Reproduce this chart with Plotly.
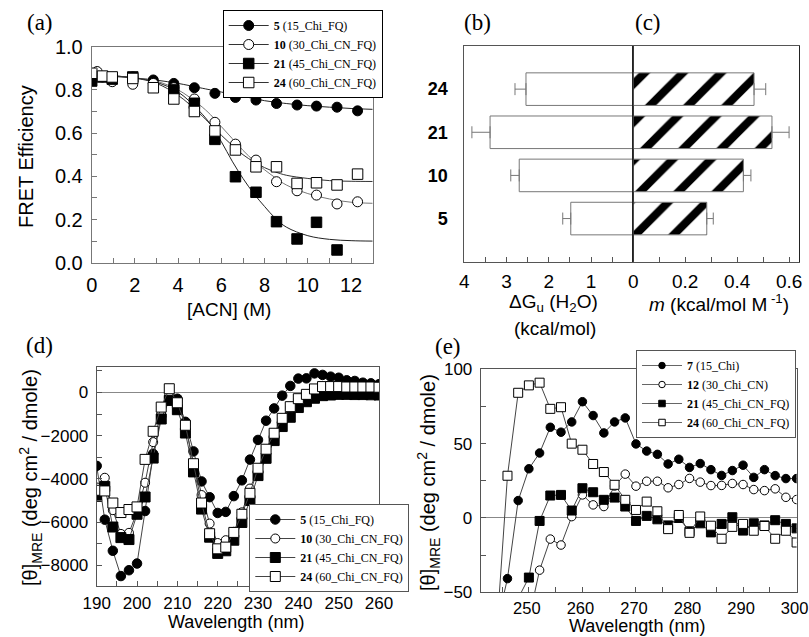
import plotly.graph_objects as go

W, H = 809, 637

# ---------------- Panel (a): FRET efficiency vs [ACN] ----------------
acn_5 = [0, 0.5, 0.95, 1.9, 2.85, 3.8, 4.75, 5.7, 6.65, 7.6, 8.55, 9.5, 10.4, 11.35, 12.3]
fret_5 = [0.865, 0.86, 0.855, 0.86, 0.846, 0.83, 0.81, 0.784, 0.765, 0.753, 0.737, 0.73, 0.725, 0.72, 0.703]
acn_10 = [0.25, 0.95, 1.9, 2.85, 3.8, 4.75, 5.7, 6.65, 7.6, 8.55, 9.5, 10.4, 11.35, 12.3]
fret_10 = [0.885, 0.838, 0.826, 0.83, 0.81, 0.758, 0.65, 0.549, 0.475, 0.375, 0.333, 0.313, 0.272, 0.282]
acn_21 = [0, 0.5, 0.95, 1.9, 3.8, 4.75, 5.7, 6.65, 7.6, 8.55, 9.5, 10.4, 11.35]
fret_21 = [0.841, 0.86, 0.85, 0.86, 0.80, 0.738, 0.571, 0.398, 0.326, 0.19, 0.11, 0.187, 0.059]
acn_24 = [0, 0.5, 0.95, 1.9, 2.85, 3.8, 4.75, 5.7, 6.65, 7.6, 8.55, 9.5, 10.4, 11.35, 12.3]
fret_24 = [0.877, 0.864, 0.86, 0.853, 0.81, 0.758, 0.70, 0.61, 0.522, 0.444, 0.444, 0.367, 0.37, 0.36, 0.41]

# fitted curves
fit_x = [0, 1, 2, 3, 4, 5, 5.5, 6, 6.5, 7, 7.5, 8, 8.5, 9, 10, 11, 12, 13]
fit_5 = [0.865, 0.862, 0.855, 0.845, 0.83, 0.81, 0.80, 0.79, 0.78, 0.77, 0.76, 0.75, 0.743, 0.737, 0.727, 0.72, 0.714, 0.71]
fit_10 = [0.87, 0.865, 0.855, 0.84, 0.80, 0.73, 0.685, 0.63, 0.575, 0.52, 0.472, 0.43, 0.393, 0.36, 0.32, 0.295, 0.28, 0.275]
fit_21 = [0.87, 0.865, 0.855, 0.835, 0.79, 0.70, 0.64, 0.56, 0.47, 0.39, 0.32, 0.26, 0.205, 0.165, 0.125, 0.108, 0.102, 0.10]
fit_24 = [0.87, 0.865, 0.855, 0.83, 0.775, 0.69, 0.64, 0.59, 0.543, 0.50, 0.467, 0.44, 0.42, 0.405, 0.39, 0.38, 0.377, 0.376]

# ---------------- Panels (b)/(c): bars ----------------
bar_labels = ["24", "21", "10", "5"]
bar_pos = [4, 3, 2, 1]
dG = [2.54, 3.39, 2.70, 1.48]
dG_err = [0.26, 0.43, 0.20, 0.19]
m_val = [0.465, 0.534, 0.424, 0.283]
m_err = [0.045, 0.066, 0.029, 0.025]

# ---------------- Panel (d): far-UV CD ----------------
wl_d = list(range(190, 262, 2))
cd_5 = [-3400, -5890, -7330, -8500, -8230, -7920, -5490, -2840, -1100, -250, -290, -1360,
        -2730, -4120, -4850, -5580, -5530, -4800, -4070, -3110, -2200, -1310, -740, -150,
        300, 640, 650, 880, 810, 730, 680, 560, 530, 450, 420, 380]
cd_10 = [-4400, -3950, -5450, -6550, -6500, -5530, -4180, -2300, -1000, -100, -450, -1500,
         -3300, -4750, -6070, -6970, -6840, -6450, -5550, -4450, -3550, -2650, -1950, -1250,
         -700, -350, -150, 0, 100, 150, 150, 150, 150, 150, 150, 150]
cd_21 = [-4810, -4350, -6230, -6720, -6810, -5640, -4840, -3040, -1230, -370, -800, -1880,
         -3680, -5400, -6700, -7450, -7330, -6840, -6020, -5000, -3850, -3050, -2230, -1580,
         -1150, -700, -430, -270, -150, -120, -90, -90, -100, -100, -110, -120]
cd_24 = [-4530, -4560, -5120, -5560, -5420, -5300, -3100, -1800, -680, 170, -480, -1520,
         -3300, -5120, -6540, -7240, -7160, -6480, -5640, -4670, -3510, -2630, -1890, -1200,
         -660, -290, -90, 160, 270, 270, 270, 250, 250, 250, 250, 240]

# ---------------- Panel (e): near-UV CD ----------------
wl_e7 = list(range(244, 302, 2))
cd_e7 = [-72, -40.8, 11.7, 33.1, 43.7, 61, 57.7, 64.6, 78.2, 68.9, 57.2, 64.6, 67.3, 49.8,
         45, 42.8, 36.3, 39.5, 34, 36.6, 32.5, 28.6, 31.9, 35.5, 27.3, 32.5, 28.5, 26.5, 26.5]
wl_e12 = list(range(250, 302, 2))
cd_e12 = [-68, -35.1, -14.2, -18.2, 0.9, 15.5, 8.8, 7.7, 21.5, 29.5, 21.4, 24.7, 24.7, 20.3,
          22.5, 26.6, 24.1, 21.8, 21.9, 23.2, 22.5, 19.1, 18.4, 19.6, 13.9, 12.4]
wl_e21 = list(range(248, 302, 2))
cd_e21 = [-54, -40.1, -2, 15.1, 15.5, 5, 20, 17.3, 12.2, 13.7, 7.7, -2, 1.4, -0.9, -5, 0,
          -9, -3.6, -9.7, -4, 0.5, -8.5, -3.6, -5, -1.5, -4, -7]
wl_e24 = list(range(244, 302, 2))
cd_e24 = [-76, 28.4, 84.2, 89.2, 91, 73.4, 74.5, 50, 45.9, 36.3, 30.9, 22.3, 12.2, 5.4, 11,
          4.5, -7.5, 2, -10, 1, -5.2, -14, -6, -4, -8.6, -5.4, -14, -8.6, -16.5]

names_a = ["<b>5</b> (15_Chi_FQ)", "<b>10</b> (30_Chi_CN_FQ)",
           "<b>21</b> (45_Chi_CN_FQ)", "<b>24</b> (60_Chi_CN_FQ)"]
names_e = ["<b>7</b> (15_Chi)", "<b>12</b> (30_Chi_CN)",
           "<b>21</b> (45_Chi_CN_FQ)", "<b>24</b> (60_Chi_CN_FQ)"]

SANS = "Liberation Sans"
SERIF = "Liberation Serif"
FRAME = "#555555"
LINE = "#444444"

styles = [
    dict(symbol="circle", color="black"),
    dict(symbol="circle", color="white"),
    dict(symbol="square", color="black"),
    dict(symbol="square", color="white"),
]


def px(x):
    return x / W


def py(y):
    return 1 - y / H


fig = go.Figure()

# ---- (a) curves
for fx, fy, col in [(fit_x, fit_5, "#222"), (fit_x, fit_10, "#777"),
                    (fit_x, fit_21, "#222"), (fit_x, fit_24, "#333")]:
    fig.add_trace(go.Scatter(x=fx, y=fy, mode="lines", line=dict(color=col, width=1, shape="spline"),
                             showlegend=False, xaxis="x", yaxis="y", hoverinfo="skip"))
for (xs, ys), st, nm, sz in zip([(acn_5, fret_5), (acn_10, fret_10), (acn_21, fret_21), (acn_24, fret_24)],
                                styles, names_a, [10, 10, 10.5, 10.5]):
    fig.add_trace(go.Scatter(x=xs, y=ys, mode="markers",
                             marker=dict(symbol=st["symbol"], color=st["color"], size=sz,
                                         line=dict(color="black", width=1)),
                             showlegend=False, xaxis="x", yaxis="y"))
    fig.add_trace(go.Scatter(x=[None], y=[None], mode="lines+markers", name=nm,
                             marker=dict(symbol=st["symbol"], color=st["color"], size=sz,
                                         line=dict(color="black", width=1)),
                             line=dict(color="#333", width=1),
                             legend="legend", xaxis="x", yaxis="y"))

# ---- (b) bars
fig.add_trace(go.Bar(y=bar_pos, x=dG, orientation="h", width=0.755,
                     marker=dict(color="white", line=dict(color="#777", width=1)),
                     error_x=dict(type="data", symmetric=False, array=dG_err, arrayminus=[0] * 4,
                                  color="#777", thickness=1, width=6),
                     showlegend=False, xaxis="x2", yaxis="y2"))
# ---- (c) bars
fig.add_trace(go.Bar(y=bar_pos, x=m_val, orientation="h", width=0.755,
                     marker=dict(color="white", line=dict(color="#777", width=1),
                                 pattern=dict(shape="/", fgcolor="black", bgcolor="white",
                                              fgopacity=1, size=27, solidity=0.3)),
                     error_x=dict(type="data", symmetric=False, array=m_err, arrayminus=[0] * 4,
                                  color="#777", thickness=1, width=6),
                     showlegend=False, xaxis="x3", yaxis="y3"))

# ---- (d)
for ys, st, nm, sz in zip([cd_5, cd_10, cd_21, cd_24], styles, names_a, [9.5, 9, 10, 10]):
    fig.add_trace(go.Scatter(x=wl_d, y=ys, mode="lines+markers", name=nm,
                             marker=dict(symbol=st["symbol"], color=st["color"], size=sz,
                                         line=dict(color="black", width=1)),
                             line=dict(color=LINE, width=1),
                             legend="legend2", xaxis="x4", yaxis="y4"))

# ---- (e)
for (xs, ys), st, nm, sz in zip([(wl_e7, cd_e7), (wl_e12, cd_e12), (wl_e21, cd_e21), (wl_e24, cd_e24)],
                                styles, names_e, [8.5, 8.5, 9, 9]):
    fig.add_trace(go.Scatter(x=xs, y=ys, mode="lines+markers",
                             marker=dict(symbol=st["symbol"], color=st["color"], size=sz,
                                         line=dict(color="black", width=1)),
                             line=dict(color=LINE, width=1),
                             showlegend=False, xaxis="x5", yaxis="y5"))
    fig.add_trace(go.Scatter(x=[None], y=[None], mode="lines+markers", name=nm,
                             marker=dict(symbol=st["symbol"], color=st["color"], size=6.5,
                                         line=dict(color="black", width=1)),
                             line=dict(color="#666", width=1),
                             legend="legend3", xaxis="x5", yaxis="y5"))

tickfont = dict(family=SANS, size=18, color="black")


def ax(**kw):
    base = dict(showline=True, mirror=True, linecolor=FRAME, linewidth=1, showgrid=False,
                zeroline=False, ticks="inside", ticklen=5, tickcolor=FRAME, tickwidth=1,
                tickfont=tickfont, fixedrange=True, automargin=False, ticklabeloverflow="allow")
    base.update(kw)
    return base


fig.update_layout(
    template="none",
    width=W, height=H, margin=dict(l=0, r=0, t=0, b=0, autoexpand=False),
    paper_bgcolor="white", plot_bgcolor="white", barmode="overlay",
    font=dict(family=SANS, color="black"),
    xaxis=ax(domain=[px(91.7), px(372.7)], range=[0, 13], anchor="y", tick0=0, dtick=2,
             linecolor="#777", tickcolor="#777",
             minor=dict(ticks="inside", dtick=1, ticklen=5, tickcolor="#777"),
             tickfont=dict(family=SANS, size=20), ticklabelstandoff=4),
    yaxis=ax(domain=[py(262.7), py(46.7)], range=[0, 1.0], anchor="x", tick0=0, dtick=0.2,
             tickformat=".1f", linecolor="#777", tickcolor="#777",
             minor=dict(ticks="inside", dtick=0.1, ticklen=5, tickcolor="#777"),
             tickfont=dict(family=SANS, size=20), ticklabelstandoff=4),
    xaxis2=ax(domain=[px(464.3), px(633.3)], range=[4, 0], anchor="y2",
              tickvals=[4, 3, 2, 1, 0], ticktext=["4", "3", "2", "1", "0"],
              minor=dict(ticks="inside", dtick=0.5, ticklen=5, tickcolor=FRAME),
              tickfont=dict(family=SANS, size=19), ticklabelstandoff=2),
    yaxis2=ax(domain=[py(261.7), py(46)], range=[0, 5], anchor="x2", ticks="",
              tickvals=bar_pos, ticktext=["<b>%s</b>" % t for t in bar_labels],
              tickfont=dict(family=SANS, size=18), ticklabelstandoff=12),
    xaxis3=ax(domain=[px(633.3), px(798.7)], range=[0, 0.637], anchor="y3",
              tickvals=[0.2, 0.4, 0.6], ticktext=["0.2", "0.4", "0.6"],
              minor=dict(ticks="inside", tickvals=[0.1, 0.3, 0.5], ticklen=5, tickcolor=FRAME),
              tickfont=dict(family=SANS, size=19), ticklabelstandoff=2),
    yaxis3=ax(domain=[py(261.7), py(46)], range=[0, 5], anchor="x3", ticks="",
              showticklabels=False, linecolor="#222"),
    xaxis4=ax(domain=[px(96.7), px(379)], range=[190, 260], anchor="y4", tick0=190, dtick=10,
              minor=dict(ticks="inside", dtick=5, ticklen=5, tickcolor=FRAME),
              tickfont=dict(family=SANS, size=17), ticklabelstandoff=2),
    yaxis4=ax(domain=[py(586), py(366.7)], range=[-8960, 1190], anchor="x4", tick0=0, dtick=2000,
              zeroline=True, zerolinecolor="#888", zerolinewidth=1,
              minor=dict(ticks="inside", dtick=1000, ticklen=5, tickcolor=FRAME),
              tickfont=dict(family=SANS, size=17), ticklabelstandoff=4),
    xaxis5=ax(domain=[px(480.7), px(796.6)], range=[241, 300], anchor="y5", tick0=250, dtick=10,
              minor=dict(ticks="inside", dtick=5, ticklen=5, tickcolor=FRAME),
              tickfont=dict(family=SANS, size=16.5), ticklabelstandoff=1, ticklabelshift=-2),
    yaxis5=ax(domain=[py(592.3), py(369.3)], range=[-50, 100], anchor="x5", tick0=0, dtick=50,
              zeroline=True, zerolinecolor="#888", zerolinewidth=1,
              minor=dict(ticks="inside", dtick=25, ticklen=5, tickcolor=FRAME),
              tickfont=dict(family=SANS, size=17), ticklabelstandoff=4),
    legend=dict(x=px(222.7), y=py(10), xanchor="left", yanchor="top", bgcolor="white",
                bordercolor="black", borderwidth=1, font=dict(family=SERIF, size=12, color="black"),
                tracegroupgap=0, itemwidth=40),
    legend2=dict(x=px(249.3), y=py(504), xanchor="left", yanchor="top", bgcolor="white",
                 bordercolor="#555", borderwidth=1, font=dict(family=SERIF, size=12, color="black"),
                 tracegroupgap=0, itemwidth=40),
    legend3=dict(x=px(636), y=py(350), xanchor="left", yanchor="top", bgcolor="white",
                 bordercolor="#555", borderwidth=1, font=dict(family=SERIF, size=12, color="black"),
                 tracegroupgap=0, itemwidth=40),
)

# zero line between (b) and (c)
fig.add_shape(type="line", xref="x3", yref="y3", x0=0, x1=0, y0=0, y1=5,
              line=dict(color="#222", width=1), layer="above")


def note(text, x, y, size, family=SANS, angle=0):
    fig.add_annotation(text=text, x=px(x), y=py(y), xref="paper", yref="paper",
                       showarrow=False, textangle=angle, xanchor="center", yanchor="middle",
                       font=dict(family=family, size=size, color="black"))


# panel labels
note("(a)", 40, 22, 23, SERIF)
note("(b)", 477, 22, 23, SERIF)
note("(c)", 648, 22, 23, SERIF)
note("(d)", 39, 345, 23, SERIF)
note("(e)", 448, 346, 23, SERIF)

# axis titles
note("FRET Efficiency", 26, 157, 20, angle=-90)
note("[ACN] (M)", 229, 309, 19)
note("ΔG<sub>u</sub> (H<sub>2</sub>O)", 553, 303, 19)
note("(kcal/mol)", 555, 328, 19)
note("<i>m</i> (kcal/mol M<sup> -1</sup>)", 719, 303, 19)
note("[θ]<sub>MRE</sub> (deg cm<sup>2</sup> / dmole)", 30, 478, 20, angle=-90)
note("Wavelength (nm)", 236, 622, 18)
note("[θ]<sub>MRE</sub> (deg cm<sup>2</sup> / dmole)", 428, 483, 20, angle=-90)
note("Wavelength (nm)", 637, 626, 18)

# remove the page's default body margin so the 809x637 figure fills the window exactly
fig.write_html("out.html", config={"displayModeBar": False},
               post_script="document.body.style.margin='0';document.body.style.overflow='hidden';")
